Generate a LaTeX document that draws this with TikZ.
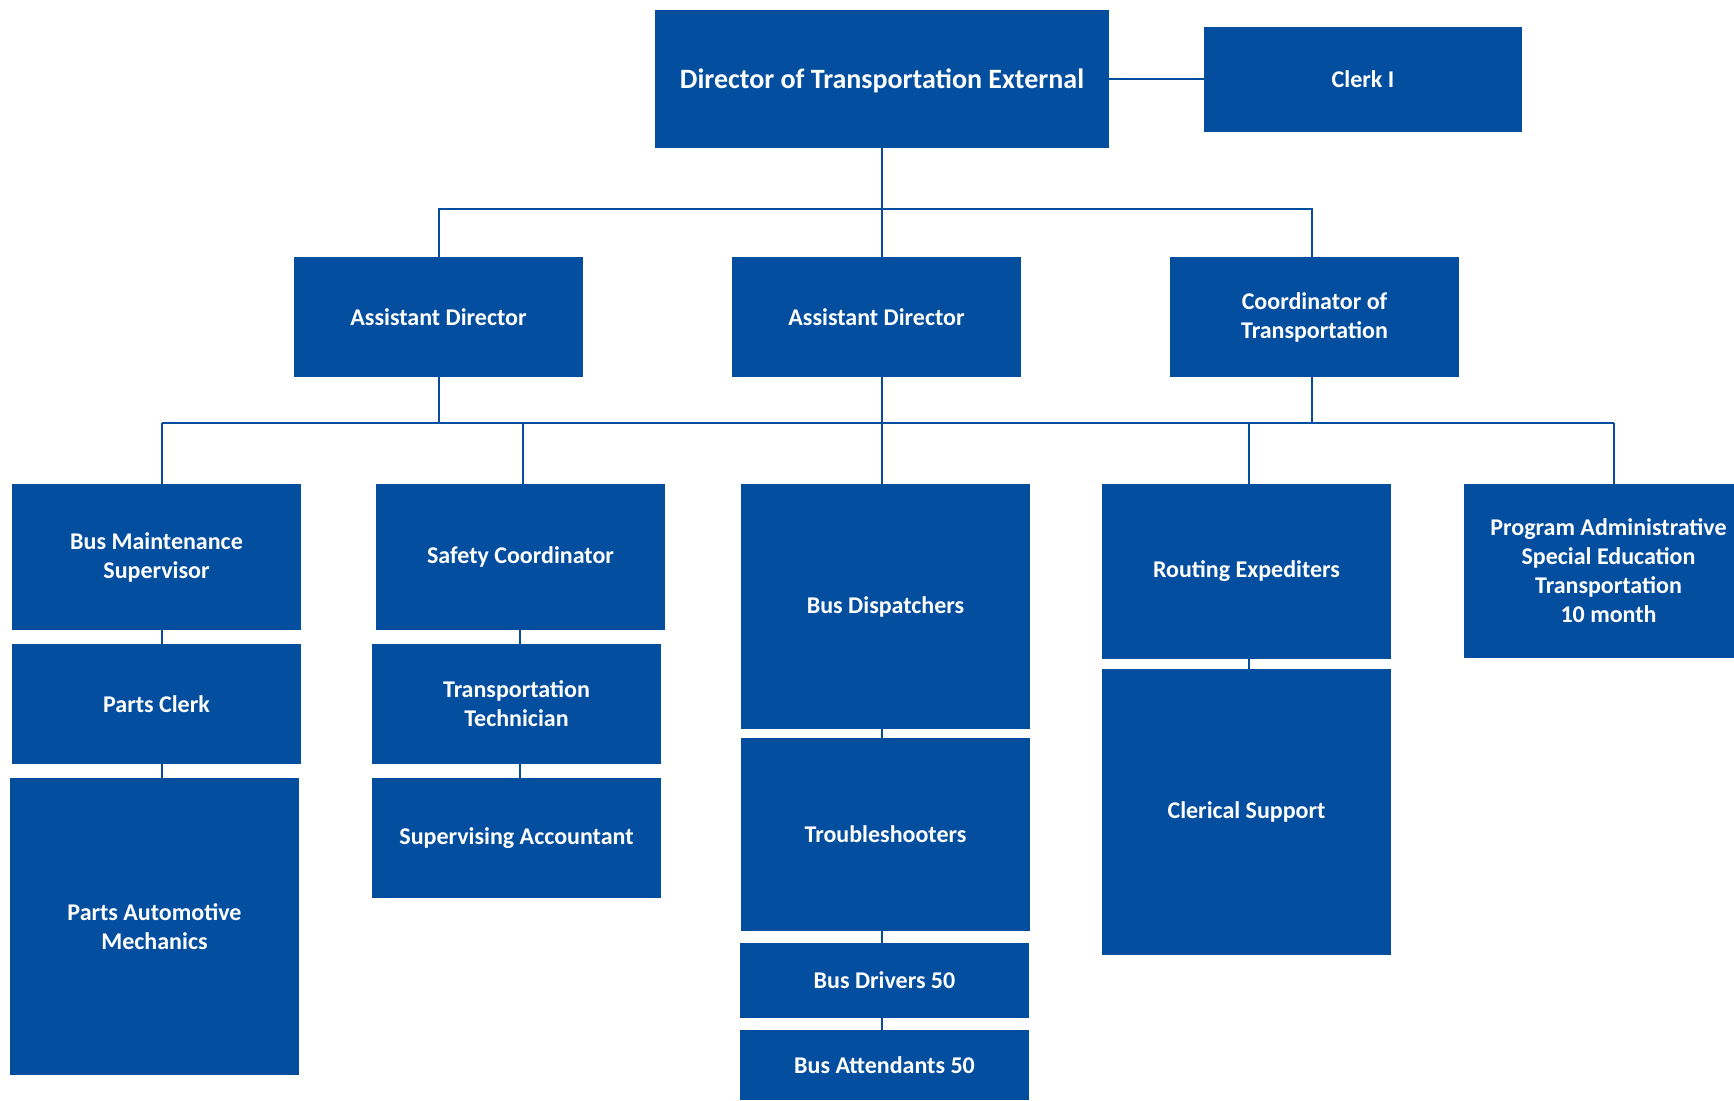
\documentclass[tikz,border=0pt]{standalone}
\usepackage{fontspec}
\setmainfont{Carlito}
\definecolor{boxblue}{RGB}{4,78,160}
\begin{document}
\begin{tikzpicture}[x=0.5pt,y=-0.5pt,
  box/.style={fill=boxblue, text=white, font=\bfseries\fontsize{12}{14.5}\selectfont,
    align=center, inner sep=0pt, outer sep=0pt, draw=none, minimum width=144.5pt},
  sz/.style={minimum height=#1},
  conn/.style={draw=boxblue, line width=1pt}]
\useasboundingbox (0,0) rectangle (1734,1101);
\clip (0,0) rectangle (1734,1101);
% top
\node[box, font=\bfseries\fontsize{14}{17}\selectfont, text depth=0pt, minimum width=227pt, sz=69pt] (dir) at (882,79) {Director of Transportation External};
\node[box, minimum width=159pt, sz=52.5pt] (clerk) at (1363,79.5) {Clerk I};
% level 2
\node[box, sz=60pt] (ad1) at (438.5,317) {Assistant Director};
\node[box, sz=60pt] (ad2) at (876.5,317) {Assistant Director};
\node[box, sz=60pt] (coord) at (1314.5,317) {Coordinator of\\Transportation};
% level 3 columns
\node[box, sz=73pt] (bms) at (156.5,557) {Bus Maintenance\\Supervisor};
\node[box, sz=60pt] (pclerk) at (156.5,704) {Parts Clerk};
\node[box, sz=148.5pt] (pam) at (154.5,926.5) {Parts Automotive\\Mechanics};
\node[box, sz=73pt] (safety) at (520.5,557) {Safety Coordinator};
\node[box, sz=60pt] (tt) at (516.5,704) {Transportation\\Technician};
\node[box, sz=60pt] (sa) at (516.5,838) {Supervising Accountant};
\node[box, sz=122.5pt] (disp) at (885.5,606.5) {Bus Dispatchers};
\node[box, sz=96.5pt] (trouble) at (885.5,834.5) {Troubleshooters};
\node[box, sz=37.5pt] (drivers) at (884.5,980.5) {Bus Drivers 50};
\node[box, sz=35pt] (attend) at (884.5,1065) {Bus Attendants 50};
\node[box, sz=87.5pt] (rout) at (1246.5,571.5) {Routing Expediters};
\node[box, sz=143pt] (cler) at (1246.5,812) {Clerical Support};
\node[box, sz=87pt] (prog) at (1608.5,571) {Program Administrative\\Special Education\\Transportation\\10 month};
% connectors top
\coordinate (t) at (0,209);
\coordinate (k) at (1312,0);
\draw[conn] (dir.east) -- (dir.east -| clerk.west);
\draw[conn] (dir.south) -- (dir.south |- ad2.north);
\draw[conn] (ad1.north) |- (k |- t) -- (k |- coord.north);
% lower bus
\coordinate (j1) at (161.5,423);
\coordinate (j2) at (523,423);
\coordinate (j3) at (882,423);
\coordinate (j4) at (1249,423);
\coordinate (j5) at (1614,423);
\coordinate (c2) at (520,0);
\draw[conn] (j1) -- (j5);
\draw[conn] (ad1.south) -- (ad1.south |- j1);
\draw[conn] (j3 |- ad2.south) -- (j3);
\draw[conn] (k |- coord.south) -- (k |- j1);
\draw[conn] (j1) -- (j1 |- bms.north);
\draw[conn] (j2) -- (j2 |- safety.north);
\draw[conn] (j3) -- (j3 |- disp.north);
\draw[conn] (j4) -- (j4 |- rout.north);
\draw[conn] (j5) -- (j5 |- prog.north);
% chains
\draw[conn] (bms.south -| j1) -- (pclerk.north -| j1);
\draw[conn] (pclerk.south -| j1) -- (pam.north -| j1);
\draw[conn] (safety.south -| c2) -- (tt.north -| c2);
\draw[conn] (tt.south -| c2) -- (sa.north -| c2);
\draw[conn] (disp.south -| j3) -- (trouble.north -| j3);
\draw[conn] (trouble.south -| j3) -- (drivers.north -| j3);
\draw[conn] (drivers.south -| j3) -- (attend.north -| j3);
\draw[conn] (rout.south -| j4) -- (cler.north -| j4);
\end{tikzpicture}
\end{document}
